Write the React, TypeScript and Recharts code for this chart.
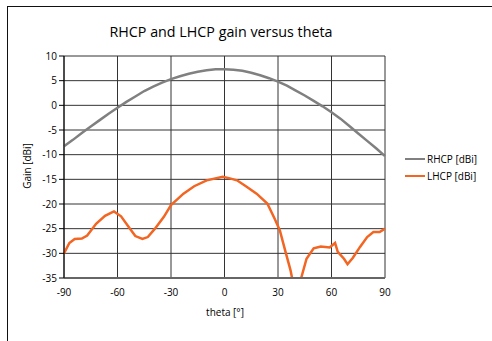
import React from 'react';
import { LineChart, Line, XAxis, YAxis, CartesianGrid } from 'recharts';

// RHCP sampled every 5 degrees
const rhcpTheta = [-90, -85, -80, -75, -70, -65, -60, -55, -50, -45, -40, -35, -30, -25, -20, -15, -10, -5, 0, 5, 10, 15, 20, 25, 30, 35, 40, 45, 50, 55, 60, 65, 70, 75, 80, 85, 90];
const rhcpGain = [-8.3, -7.0, -5.6, -4.3, -3.0, -1.7, -0.5, 0.7, 1.8, 2.9, 3.8, 4.6, 5.3, 5.9, 6.4, 6.8, 7.1, 7.3, 7.3, 7.2, 7.0, 6.6, 6.1, 5.5, 4.8, 4.0, 3.0, 2.0, 0.9, -0.2, -1.4, -2.7, -4.2, -5.7, -7.2, -8.7, -10.3];

// LHCP read at uneven angles
const lhcpTheta = [-90, -87, -84, -80, -77, -72, -67, -62, -58, -53, -50, -46, -43, -39, -34, -30, -23, -17, -10, -1, 3, 7, 12, 18, 24, 28, 31, 34, 37, 39, 41, 43, 46, 50, 54, 59, 62, 63.5, 67, 69, 72, 76, 80, 83.5, 87, 90];
const lhcpGain = [-30.0, -27.9, -27.1, -27.0, -26.4, -24.0, -22.4, -21.5, -22.5, -25.0, -26.5, -27.1, -26.7, -25.0, -22.6, -20.2, -17.9, -16.4, -15.2, -14.5, -14.8, -15.2, -16.4, -17.9, -19.9, -22.9, -25.3, -29.4, -33.4, -37, -39, -35, -31.1, -29.0, -28.6, -28.8, -27.9, -29.7, -31.1, -32.2, -30.9, -28.7, -26.7, -25.7, -25.7, -25.0];

const xTicks = [-90, -60, -30, 0, 30, 60, 90];
const yTicks = [-35, -30, -25, -20, -15, -10, -5, 0, 5, 10];

const rhcpData = rhcpTheta.map((t, i) => ({ theta: t, gain: rhcpGain[i] }));
const lhcpData = lhcpTheta.map((t, i) => ({ theta: t, gain: lhcpGain[i] }));

const FONT = '"Open Sans", sans-serif';
const RHCP_COLOR = '#808080';
const LHCP_COLOR = '#f26522';

const legendItems = [
  { name: 'RHCP [dBi]', color: RHCP_COLOR },
  { name: 'LHCP [dBi]', color: LHCP_COLOR },
];

export default function App() {
  return (
    <div style={{ position: 'absolute', left: 0, top: 0, width: 492, height: 341, background: '#fff', overflow: 'hidden' }}>
      <div style={{ position: 'absolute', left: 7, top: 6, width: 600, height: 400, borderTop: '1.5px solid #111', borderLeft: '1.5px solid #111' }} />
      <div style={{ position: 'absolute', left: 0, width: 442, top: 22, textAlign: 'center', fontFamily: FONT, fontSize: 14.3 }}>
        RHCP and LHCP gain versus theta
      </div>
      <div style={{ position: 'absolute', left: 27, top: 166, transform: 'translate(-50%, -50%) rotate(-90deg)', fontFamily: FONT, fontSize: 10, whiteSpace: 'nowrap' }}>
        Gain [dBi]
      </div>
      <div style={{ position: 'absolute', left: 225, top: 312, transform: 'translate(-50%, -50%)', fontFamily: FONT, fontSize: 10, whiteSpace: 'nowrap' }}>
        theta [°]
      </div>
      <div style={{ position: 'absolute', left: 405, top: 150.5, fontFamily: FONT, fontSize: 10 }}>
        {legendItems.map((it) => (
          <div key={it.name} style={{ display: 'flex', alignItems: 'center', height: 17 }}>
            <span style={{ width: 20, height: 1.5, background: it.color, marginRight: 2 }} />
            <span>{it.name}</span>
          </div>
        ))}
      </div>
      <LineChart width={492} height={341} margin={{ top: 56, right: 107, bottom: 33, left: 20 }} style={{ position: 'absolute', left: 0, top: 0 }}>
        <CartesianGrid stroke="#333" strokeWidth={1} />
        <XAxis
          dataKey="theta"
          type="number"
          domain={[-90, 90]}
          ticks={xTicks}
          allowDuplicatedCategory={false}
          height={30}
          tickLine={false}
          tickMargin={5}
          axisLine={{ stroke: '#666', strokeWidth: 2 }}
          tick={{ fontSize: 10, fill: '#000', fontFamily: FONT }}
        />
        <YAxis
          type="number"
          domain={[-35, 10]}
          ticks={yTicks}
          allowDataOverflow
          width={44}
          tickSize={5}
          tickMargin={2}
          tickLine={{ stroke: '#000' }}
          axisLine={{ stroke: '#000' }}
          tick={{ fontSize: 10, fill: '#000', fontFamily: FONT }}
        />
        <Line data={rhcpData} dataKey="gain" name="RHCP [dBi]" stroke={RHCP_COLOR} strokeWidth={2.5} dot={false} isAnimationActive={false} />
        <Line data={lhcpData} dataKey="gain" name="LHCP [dBi]" stroke={LHCP_COLOR} strokeWidth={2.5} dot={false} isAnimationActive={false} />
      </LineChart>
    </div>
  );
}
